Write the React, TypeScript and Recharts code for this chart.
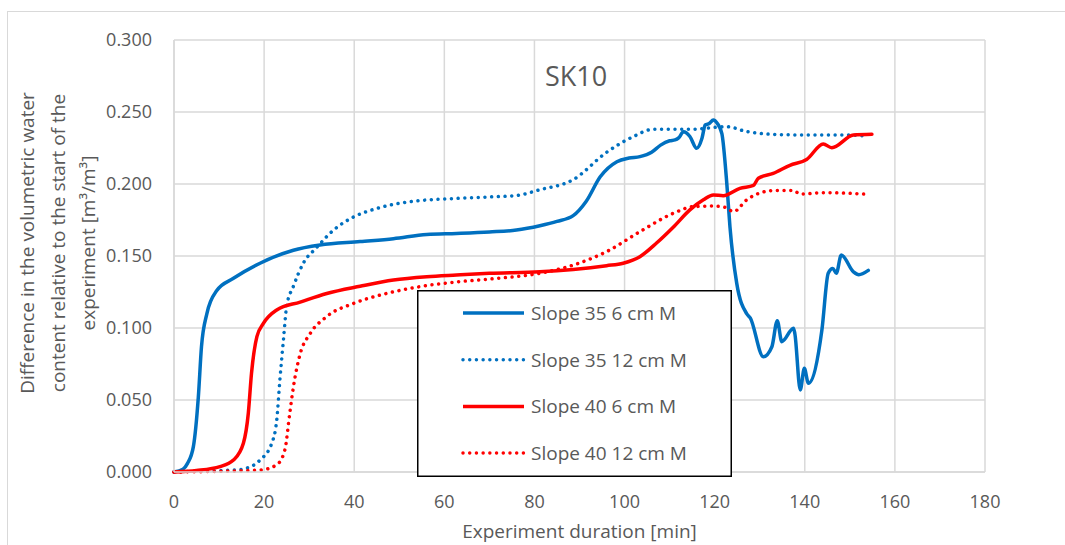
import { LineChart, Line, XAxis, YAxis, CartesianGrid } from 'recharts';

// [time in min, difference in volumetric water content m3/m3]
const slope35_6cm: [number, number][] = [
    [0, 0], [2, 0.002], [3, 0.006], [4.3, 0.0176], [5.4, 0.052], [6.1, 0.087], [7.3, 0.11],
    [9.5, 0.126], [13.2, 0.1345], [19.1, 0.145], [26.5, 0.154], [32.4, 0.1576], [41.3, 0.16],
    [48.7, 0.162], [56.1, 0.165], [62.7, 0.1657], [70, 0.1667], [76, 0.168], [81.2, 0.171],
    [85, 0.174], [88.6, 0.178], [91.5, 0.188], [94.6, 0.205], [98.3, 0.2155], [101, 0.218],
    [103.4, 0.219], [106, 0.222], [108, 0.227], [110, 0.23], [111.2, 0.2306], [112, 0.232],
    [113.1, 0.2363], [114.5, 0.233], [116, 0.2248], [117.2, 0.232], [117.9, 0.241], [118.8, 0.242],
    [119.7, 0.2444], [120.6, 0.242], [121.6, 0.235], [122.7, 0.2], [123.4, 0.17], [124.9, 0.131],
    [127.1, 0.11], [127.9, 0.107], [130.8, 0.08], [132.7, 0.087], [133.9, 0.105], [134.9, 0.0905],
    [137.5, 0.0998], [137.8, 0.096], [139, 0.057], [139.9, 0.072], [140.8, 0.0616], [143.8, 0.0986],
    [145.2, 0.138], [146.2, 0.1414], [147, 0.138], [148.1, 0.1507], [150.8, 0.139], [152, 0.137],
    [154.1, 0.14],
];

const slope35_12cm: [number, number][] = [
    [0, 0], [5, 0.0005], [10, 0.001], [14, 0.0015], [16.1, 0.0026], [19.1, 0.0083], [21.7, 0.02],
    [22.8, 0.036], [23.5, 0.064], [24.3, 0.092], [25, 0.115], [26.5, 0.129], [28.7, 0.145],
    [31.7, 0.156], [35.4, 0.168], [39.8, 0.177], [45, 0.183], [52.4, 0.1877], [62.7, 0.19],
    [70, 0.191], [76, 0.192], [81.2, 0.196], [88.6, 0.203], [96, 0.222], [102, 0.233],
    [106.4, 0.238], [114.5, 0.238], [122.7, 0.2398], [127.1, 0.2364], [133, 0.2345],
    [140.4, 0.234], [149.3, 0.234], [153, 0.2335],
];

const slope40_6cm: [number, number][] = [
    [0, 0], [5, 0.001], [10.2, 0.0037], [13.2, 0.0083], [15.4, 0.02], [16.5, 0.041], [17.2, 0.0685],
    [18.4, 0.094], [19.8, 0.103], [22.8, 0.1125], [28, 0.118], [33.9, 0.124], [41.3, 0.129],
    [48.7, 0.1333], [56.1, 0.1356], [62.7, 0.1368], [70, 0.138], [81.2, 0.139], [88.6, 0.1407],
    [96, 0.1433], [99.7, 0.145], [103.4, 0.1495], [107.1, 0.159], [110.8, 0.17], [114.5, 0.182],
    [117.5, 0.189], [119.7, 0.1924], [121.9, 0.1919], [125.6, 0.197], [128.6, 0.199], [129.7, 0.204],
    [133, 0.2074], [136.7, 0.213], [140.4, 0.217], [144.1, 0.2278], [146, 0.2252], [150.8, 0.234],
    [154.9, 0.2345],
];

const slope40_12cm: [number, number][] = [
    [0, 0], [10, 0.0005], [19.1, 0.0014], [22.8, 0.005], [24.6, 0.0153], [25.7, 0.041], [26.5, 0.059],
    [28, 0.082], [30.2, 0.096], [33.9, 0.108], [39.8, 0.117], [47.2, 0.124], [54.6, 0.1287],
    [62.7, 0.132], [70, 0.134], [81.2, 0.138], [88.6, 0.1437], [96, 0.153], [103.4, 0.1669],
    [110.8, 0.1796], [115.3, 0.1843], [119.7, 0.1847], [122.3, 0.1838], [124.2, 0.1808],
    [127.1, 0.189], [133, 0.1954], [137.5, 0.1954], [139, 0.193], [144.1, 0.194], [153.8, 0.1929],
];

const xTicks = [0, 20, 40, 60, 80, 100, 120, 140, 160, 180];
const yTicks = [0, 0.05, 0.1, 0.15, 0.2, 0.25, 0.3];

const BLUE = '#0070C0';
const RED = '#FF0000';
const GRID = '#D9D9D9';
const TEXT = '#595959';
const FONT = '"Open Sans", sans-serif';
const DOTS = '0.01 6.7';

const series = [
    { name: 'Slope 35 6 cm M', points: slope35_6cm, color: BLUE, dotted: false },
    { name: 'Slope 35 12 cm M', points: slope35_12cm, color: BLUE, dotted: true },
    { name: 'Slope 40 6 cm M', points: slope40_6cm, color: RED, dotted: false },
    { name: 'Slope 40 12 cm M', points: slope40_12cm, color: RED, dotted: true },
];

const toRows = (pts: [number, number][]) => pts.map(([t, v]) => ({ t, v }));

const LegendBox = () => (
    <svg width={315} height={187} style={{ position: 'absolute', left: 417, top: 290, display: 'block' }}>
        <rect x={0.75} y={0.75} width={313.5} height={185.5} fill="#fff" stroke="#000" strokeWidth={1.5} />
        {series.map((s, i) => {
            const y = 23 + i * 46.7;
            return (
                <g key={s.name}>
                    <line
                        x1={46}
                        x2={107}
                        y1={y}
                        y2={y}
                        stroke={s.color}
                        strokeWidth={3.5}
                        strokeDasharray={s.dotted ? DOTS : undefined}
                        strokeLinecap={s.dotted ? 'round' : 'butt'}
                    />
                    <text x={114} y={y} dy="0.36em" fill={TEXT} fontSize={19} fontFamily={FONT}>
                        {s.name}
                    </text>
                </g>
            );
        })}
    </svg>
);

const renderYLabel = () => (
    <text
        transform="translate(58,243) rotate(-90)"
        textAnchor="middle"
        fill={TEXT}
        fontSize={19}
        fontFamily={FONT}
    >
        <tspan x={0} y={-31} dy="0.35em">Difference in the volumetric water</tspan>
        <tspan x={0} y={0} dy="0.35em">content relative to the start of the</tspan>
        <tspan x={0} y={30} dy="0.35em">experiment [m³/m³]</tspan>
    </text>
);

const App = () => {
    return (
        <div style={{ position: 'absolute', left: 0, top: 0, width: 1065, height: 545, overflow: 'hidden', background: '#fff' }}>
            <div
                style={{
                    position: 'absolute',
                    left: 7,
                    top: 11,
                    width: 1100,
                    height: 600,
                    border: `1.5px solid ${GRID}`,
                }}
            />
            <LineChart
                width={1065}
                height={545}
                margin={{ top: 40, right: 80, bottom: 43, left: 104 }}
                style={{ position: 'absolute', left: 0, top: 0 }}
            >
                <CartesianGrid stroke={GRID} strokeWidth={1.5} />
                <XAxis
                    type="number"
                    dataKey="t"
                    domain={[0, 180]}
                    ticks={xTicks}
                    allowDuplicatedCategory={false}
                    stroke={GRID}
                    strokeWidth={1.5}
                    tickLine={false}
                    tickSize={0}
                    tickMargin={23}
                    tick={{ fill: TEXT, fontSize: 18, fontFamily: FONT }}
                    label={{
                        value: 'Experiment duration [min]',
                        position: 'bottom',
                        offset: 23,
                        fill: TEXT,
                        fontSize: 19,
                        fontFamily: FONT,
                    }}
                />
                <YAxis
                    type="number"
                    domain={[0, 0.3]}
                    ticks={yTicks}
                    width={70}
                    stroke={GRID}
                    strokeWidth={1.5}
                    tickLine={false}
                    tickSize={0}
                    tickMargin={22}
                    tickFormatter={(v: number) => v.toFixed(3)}
                    tick={{ fill: TEXT, fontSize: 18, fontFamily: FONT }}
                    label={{ content: renderYLabel }}
                />
                {series.map((s) => (
                    <Line
                        key={s.name}
                        name={s.name}
                        data={toRows(s.points)}
                        dataKey="v"
                        type="monotone"
                        stroke={s.color}
                        strokeWidth={3.5}
                        strokeDasharray={s.dotted ? DOTS : undefined}
                        strokeLinecap="round"
                        dot={false}
                        activeDot={false}
                        isAnimationActive={false}
                    />
                ))}
            </LineChart>
            <div
                style={{
                    position: 'absolute',
                    left: 476,
                    top: 58,
                    width: 200,
                    textAlign: 'center',
                    fontFamily: FONT,
                    fontSize: 27,
                    color: TEXT,
                    lineHeight: '36px',
                }}
            >
                SK10
            </div>
            <LegendBox />
        </div>
    );
};

export default App;
